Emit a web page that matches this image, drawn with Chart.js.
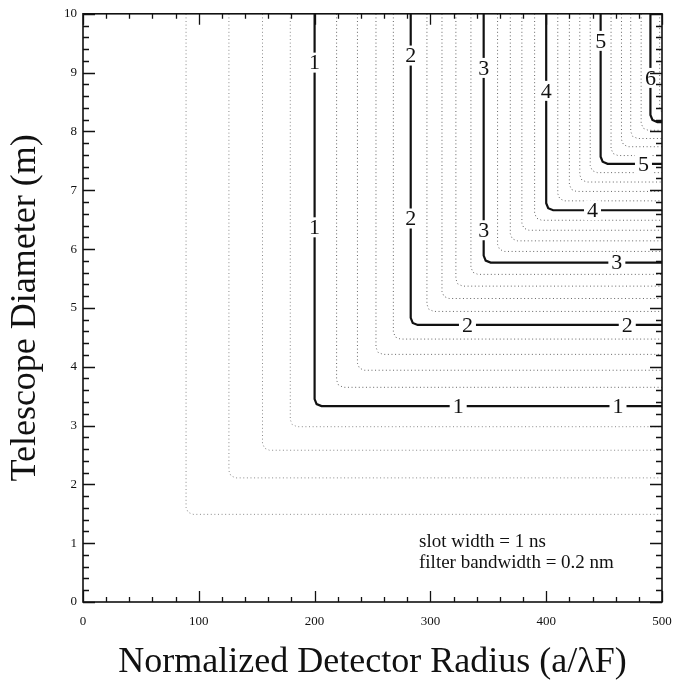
<!DOCTYPE html>
<html><head><meta charset="utf-8">
<script src="https://cdn.jsdelivr.net/npm/chart.js@4.4.1/dist/chart.umd.min.js"></script>
<style>html,body{margin:0;padding:0;background:#fff}</style>
</head><body>
<canvas id="c" width="684" height="689"></canvas>
<script>
// ---- data ----
const levels  = [0.2,0.4,0.6,0.8,1.0,1.2,1.4,1.6,1.8,2.0,2.2,2.4,2.6,2.8,3.0,3.2,3.4,3.6,3.8,4.0,4.2,4.4,4.6,4.8,5.0,5.2,5.4,5.6,5.8,6.0,6.2];
const cornerX = [89,126,155,179,200,219,237,253,268,283,297,310,322,335,346,358,369,379,390,400,410,420,429,438,447,456,465,473,482,490,498];
const cornerY = [1.49,2.11,2.58,2.98,3.33,3.65,3.94,4.21,4.47,4.71,4.94,5.16,5.37,5.57,5.77,5.96,6.14,6.32,6.49,6.66,6.82,6.98,7.14,7.30,7.45,7.59,7.74,7.88,8.02,8.16,8.29];
const labelText = ["1","1","1","1","2","2","2","2","3","3","3","4","4","5","5","6"];
const labelX    = [200,200,324,462,283,283,332,470,346,346,461,400,440,447,484,490];
const labelY    = [9.17,6.37,3.33,3.33,9.29,6.52,4.71,4.71,9.08,6.32,5.77,8.69,6.66,9.54,7.45,8.91];
const xTickValues = [0,100,200,300,400,500];
const xTickLabels = ["0","100","200","300","400","500"];
const yTickValues = [0,1,2,3,4,5,6,7,8,9,10];
const yTickLabels = ["0","1","2","3","4","5","6","7","8","9","10"];
const noteLines = ["slot width = 1 ns","filter bandwidth = 0.2 nm"];

const X_MAX = 500, Y_MAX = 10;
const SERIF = '"Liberation Serif", "Times New Roman", serif';

function contourPoints(cx, cy){
  const rx = 6, ry = 0.12;
  return [
    {x:cx, y:Y_MAX},
    {x:cx, y:cy+ry},
    {x:cx+rx*0.29, y:cy+ry*0.29},
    {x:cx+rx, y:cy},
    {x:X_MAX, y:cy}
  ];
}

const datasets = levels.map((lv,i)=>{
  const major = Math.abs(lv - Math.round(lv)) < 1e-6;
  return {
    data: contourPoints(cornerX[i], cornerY[i]),
    showLine: true,
    pointRadius: 0,
    borderColor: major ? '#111' : (lv < 1 ? '#8a8a8a' : '#666'),
    borderWidth: major ? 2.2 : 1,
    borderDash: major ? [] : [1,2.6],
    tension: 0,
    fill: false,
    order: major ? 0 : 1
  };
});

const decorPlugin = {
  id:'decor',
  afterDatasetsDraw(chart){
    const {ctx, chartArea:a, scales:{x,y}} = chart;
    ctx.save();
    // contour labels with white knockout
    ctx.font = '22px ' + SERIF;
    ctx.textAlign = 'center';
    ctx.textBaseline = 'middle';
    labelText.forEach((t,i)=>{
      const px = x.getPixelForValue(labelX[i]);
      const py = y.getPixelForValue(labelY[i]);
      const w = ctx.measureText(t).width;
      ctx.fillStyle = '#fff';
      ctx.fillRect(px - w/2 - 3, py - 10, w + 6, 20);
      ctx.fillStyle = '#111';
      ctx.fillText(t, px, py + 1);
    });
    // frame
    ctx.strokeStyle = '#111';
    ctx.lineWidth = 1.6;
    ctx.strokeRect(a.left, a.top, a.right - a.left, a.bottom - a.top);
    // inward ticks
    ctx.lineWidth = 1.3;
    ctx.beginPath();
    for (let v = 0; v <= X_MAX + 1e-6; v += 20){
      const major = xTickValues.includes(Math.round(v));
      const len = major ? 11 : 5;
      const px = Math.round(x.getPixelForValue(v)) + 0.5;
      ctx.moveTo(px, a.bottom); ctx.lineTo(px, a.bottom - len);
      ctx.moveTo(px, a.top); ctx.lineTo(px, a.top + len);
    }
    for (let k = 0; k <= 50; k++){
      const v = k * 0.2;
      const major = k % 5 === 0;
      const len = major ? 12 : 6;
      const py = Math.round(y.getPixelForValue(v)) + 0.5;
      ctx.moveTo(a.left, py); ctx.lineTo(a.left + len, py);
      ctx.moveTo(a.right, py); ctx.lineTo(a.right - len, py);
    }
    ctx.stroke();
    // note text
    ctx.font = '19px ' + SERIF;
    ctx.textAlign = 'left';
    ctx.textBaseline = 'alphabetic';
    ctx.fillStyle = '#111';
    ctx.fillText(noteLines[0], 419, 547);
    ctx.fillText(noteLines[1], 419, 568);
    ctx.restore();
  }
};

new Chart(document.getElementById('c'), {
  type: 'scatter',
  data: { datasets },
  options: {
    responsive: false,
    devicePixelRatio: 1,
    animation: false,
    layout: { padding: { top: 13, right: 22, left: 0, bottom: 0 } },
    plugins: { legend: { display: false }, tooltip: { enabled: false } },
    scales: {
      x: {
        type: 'linear', min: 0, max: X_MAX,
        afterBuildTicks: s => { s.ticks = xTickValues.map(v => ({ value: v })); },
        afterFit: s => { s.height = 87; },
        grid: { display: false, drawTicks: false },
        border: { display: false },
        ticks: {
          padding: 12, color: '#111', maxRotation: 0,
          font: { family: SERIF, size: 13 },
          callback: (v) => xTickLabels[xTickValues.indexOf(v)]
        },
        title: {
          display: true, text: 'Normalized Detector Radius (a/λF)',
          color: '#111', font: { family: SERIF, size: 36 },
          padding: { top: 0, bottom: 5 }
        }
      },
      y: {
        type: 'linear', min: 0, max: Y_MAX,
        afterBuildTicks: s => { s.ticks = yTickValues.map(v => ({ value: v })); },
        afterFit: s => { s.width = 83; },
        grid: { display: false, drawTicks: false },
        border: { display: false },
        ticks: {
          padding: 6, color: '#111',
          font: { family: SERIF, size: 13 },
          callback: (v) => yTickLabels[yTickValues.indexOf(v)]
        },
        title: {
          display: true, text: 'Telescope Diameter (m)',
          color: '#111', font: { family: SERIF, size: 36 },
          padding: { top: 4, bottom: 0 }
        }
      }
    }
  },
  plugins: [decorPlugin]
});
</script>
</body></html>
